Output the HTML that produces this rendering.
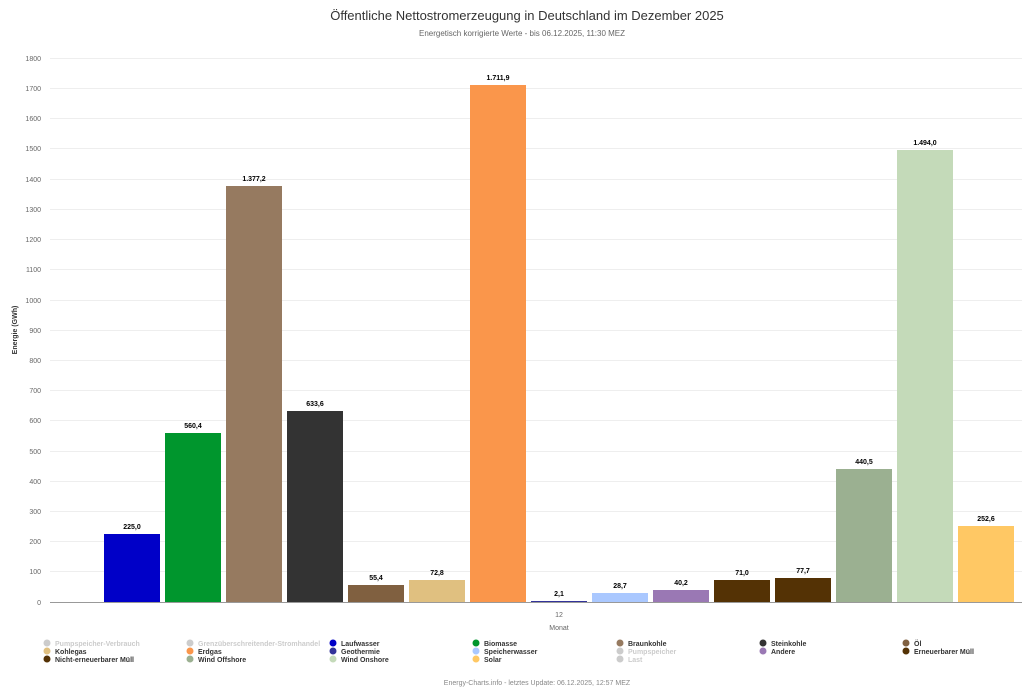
<!DOCTYPE html>
<html><head><meta charset="utf-8"><style>
body{margin:0;background:#fff;}
svg text{font-family:"Liberation Sans",sans-serif;}
</style></head><body>
<svg width="1024" height="690" xmlns="http://www.w3.org/2000/svg">
<text x="527" y="20" font-size="13" fill="#333" text-anchor="middle">Öffentliche Nettostromerzeugung in Deutschland im Dezember 2025</text>
<text x="522" y="36" font-size="8" fill="#666" text-anchor="middle">Energetisch korrigierte Werte - bis 06.12.2025, 11:30 MEZ</text>
<g stroke="#eee" stroke-width="1">
<line x1="50" x2="1022" y1="58.5" y2="58.5"/><line x1="50" x2="1022" y1="88.5" y2="88.5"/><line x1="50" x2="1022" y1="118.5" y2="118.5"/><line x1="50" x2="1022" y1="148.5" y2="148.5"/><line x1="50" x2="1022" y1="179.5" y2="179.5"/><line x1="50" x2="1022" y1="209.5" y2="209.5"/><line x1="50" x2="1022" y1="239.5" y2="239.5"/><line x1="50" x2="1022" y1="269.5" y2="269.5"/><line x1="50" x2="1022" y1="300.5" y2="300.5"/><line x1="50" x2="1022" y1="330.5" y2="330.5"/><line x1="50" x2="1022" y1="360.5" y2="360.5"/><line x1="50" x2="1022" y1="390.5" y2="390.5"/><line x1="50" x2="1022" y1="420.5" y2="420.5"/><line x1="50" x2="1022" y1="451.5" y2="451.5"/><line x1="50" x2="1022" y1="481.5" y2="481.5"/><line x1="50" x2="1022" y1="511.5" y2="511.5"/><line x1="50" x2="1022" y1="541.5" y2="541.5"/><line x1="50" x2="1022" y1="571.5" y2="571.5"/>
</g>
<g font-size="7" fill="#666" text-anchor="end">
<text x="41" y="61">1800</text><text x="41" y="91">1700</text><text x="41" y="121">1600</text><text x="41" y="151">1500</text><text x="41" y="182">1400</text><text x="41" y="212">1300</text><text x="41" y="242">1200</text><text x="41" y="272">1100</text><text x="41" y="303">1000</text><text x="41" y="333">900</text><text x="41" y="363">800</text><text x="41" y="393">700</text><text x="41" y="423">600</text><text x="41" y="454">500</text><text x="41" y="484">400</text><text x="41" y="514">300</text><text x="41" y="544">200</text><text x="41" y="574">100</text><text x="41" y="605">0</text>
</g>
<text transform="translate(17,330) rotate(-90)" font-size="7" font-weight="bold" fill="#333" text-anchor="middle">Energie (GWh)</text>
<g>
<rect x="104" y="534" width="56" height="68" fill="#0000c8"/>
<rect x="165" y="433" width="56" height="169" fill="#00962d"/>
<rect x="226" y="186" width="56" height="416" fill="#967a60"/>
<rect x="287" y="411" width="56" height="191" fill="#333"/>
<rect x="348" y="585" width="56" height="17" fill="#806040"/>
<rect x="409" y="580" width="56" height="22" fill="#e0c080"/>
<rect x="470" y="85" width="56" height="517" fill="#fa964b"/>
<rect x="531" y="601" width="56" height="1" fill="#333399"/>
<rect x="592" y="593" width="56" height="9" fill="#aac8ff"/>
<rect x="653" y="590" width="56" height="12" fill="#9a78b4"/>
<rect x="714" y="580" width="56" height="22" fill="#543205"/>
<rect x="775" y="578" width="56" height="24" fill="#543205"/>
<rect x="836" y="469" width="56" height="133" fill="#9bb091"/>
<rect x="897" y="150" width="56" height="452" fill="#c4dab9"/>
<rect x="958" y="526" width="56" height="76" fill="#ffc864"/>
</g>
<line x1="50" x2="1022" y1="602.5" y2="602.5" stroke="#999"/>
<g font-size="7" font-weight="bold" fill="#000" text-anchor="middle">
<text x="132" y="529">225,0</text><text x="193" y="428">560,4</text><text x="254" y="181">1.377,2</text><text x="315" y="406">633,6</text><text x="376" y="580">55,4</text><text x="437" y="575">72,8</text><text x="498" y="80">1.711,9</text><text x="559" y="596">2,1</text><text x="620" y="588">28,7</text><text x="681" y="585">40,2</text><text x="742" y="575">71,0</text><text x="803" y="573">77,7</text><text x="864" y="464">440,5</text><text x="925" y="145">1.494,0</text><text x="986" y="521">252,6</text>
</g>
<text x="559" y="617" font-size="7" fill="#666" text-anchor="middle">12</text>
<text x="559" y="630" font-size="7" fill="#666" text-anchor="middle">Monat</text>
<g font-size="7" font-weight="bold">
<circle cx="47" cy="643" r="3.5" fill="#ccc"/><text x="55" y="646" fill="#ccc">Pumpspeicher-Verbrauch</text>
<circle cx="190" cy="643" r="3.5" fill="#ccc"/><text x="198" y="646" fill="#ccc">Grenzüberschreitender-Stromhandel</text>
<circle cx="333" cy="643" r="3.5" fill="#0000c8"/><text x="341" y="646" fill="#333">Laufwasser</text>
<circle cx="476" cy="643" r="3.5" fill="#00962d"/><text x="484" y="646" fill="#333">Biomasse</text>
<circle cx="620" cy="643" r="3.5" fill="#967a60"/><text x="628" y="646" fill="#333">Braunkohle</text>
<circle cx="763" cy="643" r="3.5" fill="#333"/><text x="771" y="646" fill="#333">Steinkohle</text>
<circle cx="906" cy="643" r="3.5" fill="#806040"/><text x="914" y="646" fill="#333">Öl</text>
<circle cx="47" cy="651" r="3.5" fill="#e0c080"/><text x="55" y="654" fill="#333">Kohlegas</text>
<circle cx="190" cy="651" r="3.5" fill="#fa964b"/><text x="198" y="654" fill="#333">Erdgas</text>
<circle cx="333" cy="651" r="3.5" fill="#333399"/><text x="341" y="654" fill="#333">Geothermie</text>
<circle cx="476" cy="651" r="3.5" fill="#aac8ff"/><text x="484" y="654" fill="#333">Speicherwasser</text>
<circle cx="620" cy="651" r="3.5" fill="#ccc"/><text x="628" y="654" fill="#ccc">Pumpspeicher</text>
<circle cx="763" cy="651" r="3.5" fill="#9a78b4"/><text x="771" y="654" fill="#333">Andere</text>
<circle cx="906" cy="651" r="3.5" fill="#543205"/><text x="914" y="654" fill="#333">Erneuerbarer Müll</text>
<circle cx="47" cy="659" r="3.5" fill="#543205"/><text x="55" y="662" fill="#333">Nicht-erneuerbarer Müll</text>
<circle cx="190" cy="659" r="3.5" fill="#9bb091"/><text x="198" y="662" fill="#333">Wind Offshore</text>
<circle cx="333" cy="659" r="3.5" fill="#c4dab9"/><text x="341" y="662" fill="#333">Wind Onshore</text>
<circle cx="476" cy="659" r="3.5" fill="#ffc864"/><text x="484" y="662" fill="#333">Solar</text>
<circle cx="620" cy="659" r="3.5" fill="#ccc"/><text x="628" y="662" fill="#ccc">Last</text>
</g>
<text x="537" y="685" font-size="7" fill="#888" text-anchor="middle">Energy-Charts.info - letztes Update: 06.12.2025, 12:57 MEZ</text>
</svg>
</body></html>
